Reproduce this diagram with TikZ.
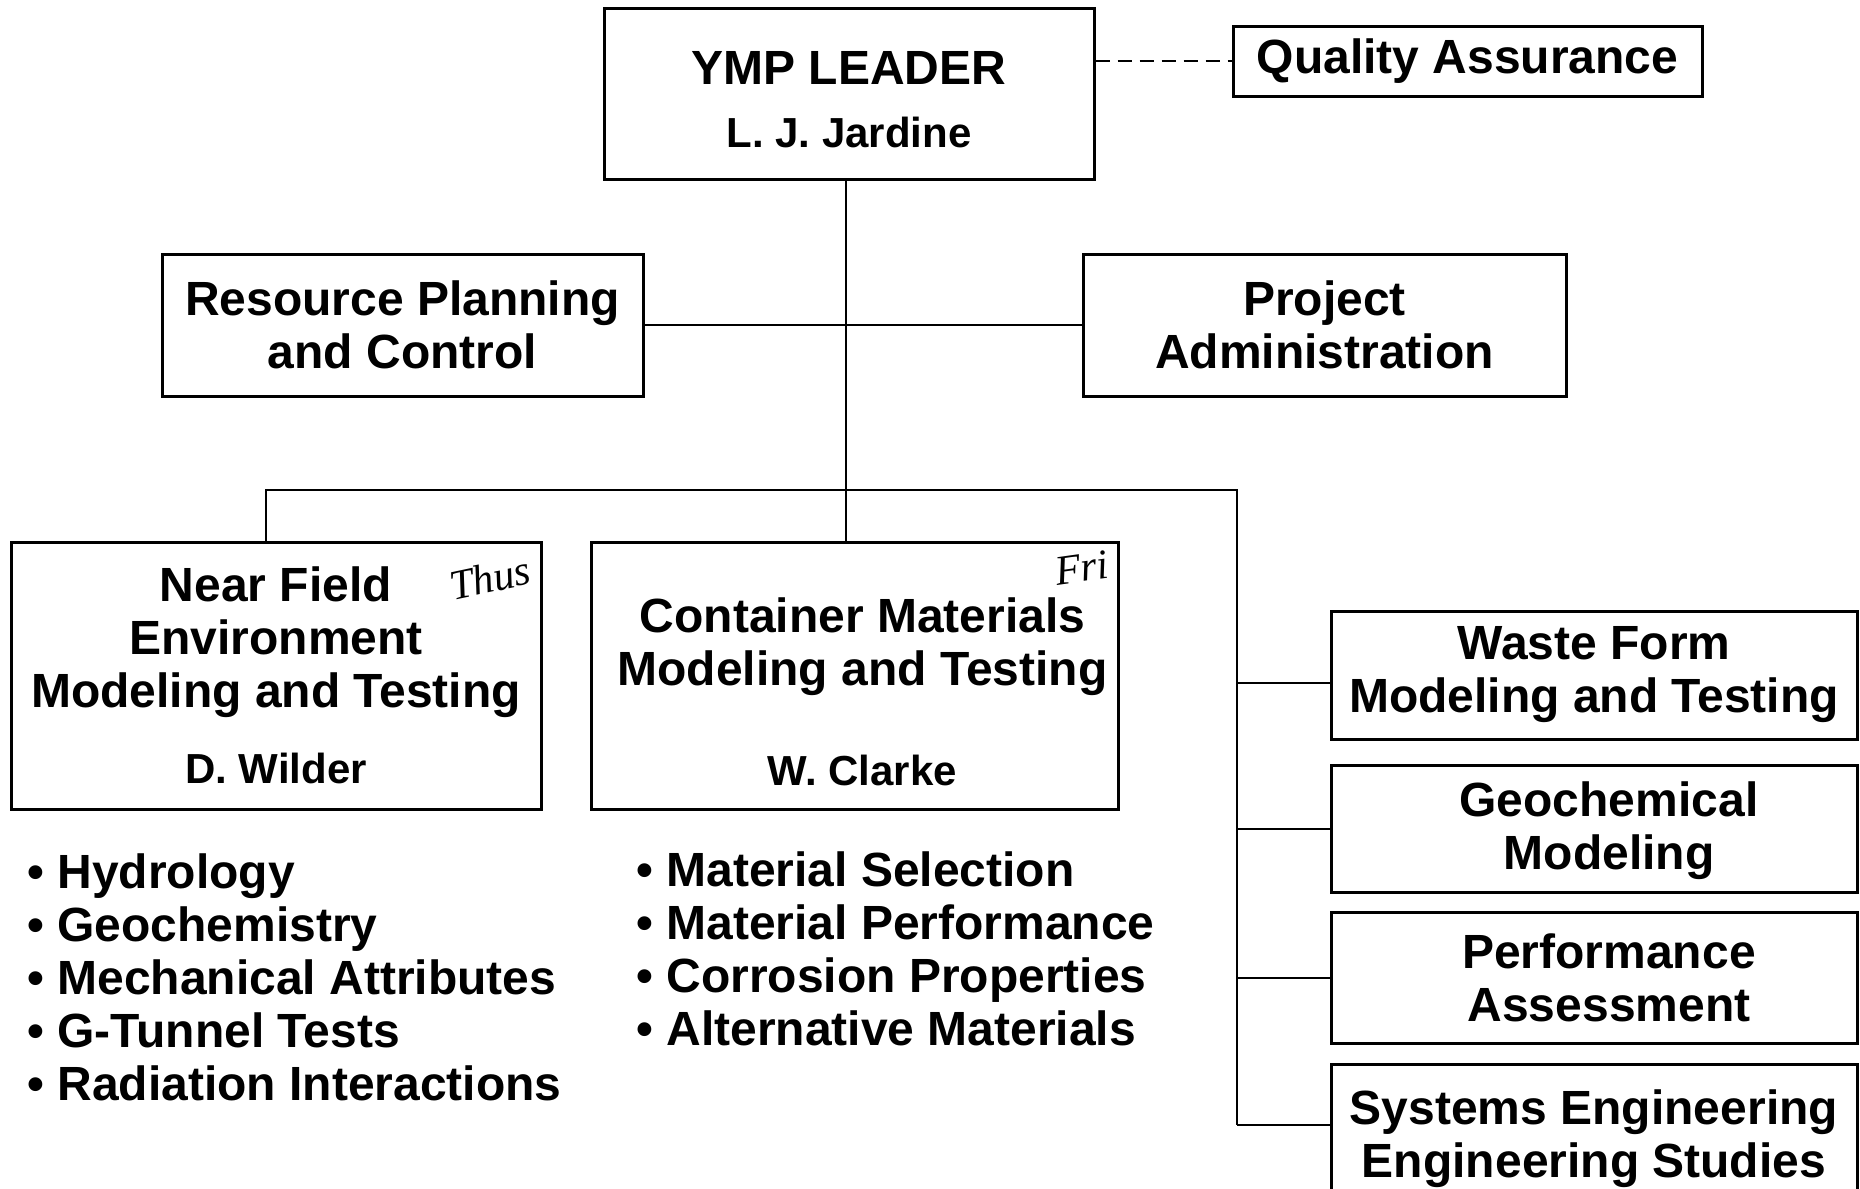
\documentclass[tikz,border=0pt]{standalone}
\usepackage{fontspec}
\setmainfont{Liberation Sans}
\newfontfamily\handfont{Liberation Serif}
\newcommand{\staffname}[1]{{\fontsize{21}{24}\selectfont #1}}

\begin{document}
\begin{tikzpicture}[x=0.5pt, y=-0.5pt,
    unit/.style={draw=black, line width=1.5pt, inner sep=0pt, align=center,
      font=\fontsize{24}{26.5}\selectfont\bfseries},
    tasks/.style={anchor=north west, inner sep=0pt, align=left,
      font=\fontsize{24}{26.5}\selectfont\bfseries},
    note/.style={inner sep=0pt, font=\handfont\itshape\fontsize{21}{21}\selectfont},
    link/.style={line width=1pt}]
    \useasboundingbox (0,0) rectangle (1860,1189);

    \node[unit, minimum width=245pt, minimum height=85.5pt] at (849,93.5) (leader) {\rule{0pt}{23pt}YMP LEADER\\[5pt]\staffname{L. J. Jardine}};
    \node[unit, minimum width=234.5pt, minimum height=35pt] at (1467.5,61) (qa) {Quality Assurance};
    \node[unit, minimum width=240.5pt, minimum height=71pt] at (402.5,325) (resource) {Resource Planning\\and Control};
    \node[unit, minimum width=241.5pt, minimum height=71pt] at (1324.5,325) (project) {Project\\Administration};

    \node[unit, minimum width=265pt, minimum height=133.5pt] at (276,675.5) (nearfield) {Near Field\\Environment\\Modeling and Testing\\[11.5pt]\staffname{D. Wilder}};
    \node[unit, minimum width=263.5pt, minimum height=133.5pt] at (854.5,675.5) (container) {\hspace*{8pt}\rule{0pt}{34pt}Container Materials\\\hspace*{8pt}Modeling and Testing\\[23.5pt]\hspace*{8pt}\staffname{W. Clarke}};

    \node[unit, minimum width=263pt, minimum height=64pt] at (1594,675) (waste) {Waste Form\\Modeling and Testing};
    \node[unit, minimum width=263pt, minimum height=63.5pt] at (1594,828.5) (geochem) {\hspace*{15pt}\rule{0pt}{20pt}Geochemical\\\hspace*{15pt}Modeling};
    \node[unit, minimum width=263pt, minimum height=65.5pt] at (1594,978) (perform) {\hspace*{15pt}Performance\\\hspace*{15pt}Assessment};
    \node[unit, minimum width=263pt, minimum height=75pt] at (1594,1139) (systems) {Systems Engineering\\Engineering Studies};

    \node[tasks] at (27,853) (nftasks) {• Hydrology\\• Geochemistry\\• Mechanical Attributes\\• G-Tunnel Tests\\• Radiation Interactions};
    \node[tasks] at (636,851) (cmtasks) {• Material Selection\\• Material Performance\\• Corrosion Properties\\• Alternative Materials};

    \node[note, rotate=12] at (490,578) (thurs) {Thus};
    \node[note, rotate=8] at (1082,568) (fri) {Fri};

    \coordinate (bus) at (1237,490);
    \coordinate (wastein) at ([yshift=-4pt]waste.west);
    \coordinate (systemsin) at ([yshift=7pt]systems.west);
    \draw[link, dash pattern=on 7pt off 4pt] (leader.east |- qa.west) -- (qa.west);
    \draw[link] ([xshift=-1.5pt]leader.south) -- ([xshift=-1.5pt]leader.south |- container.north);
    \draw[link] (resource.east) -- (project.west);
    \draw[link] ([xshift=-5pt]nearfield.north) |- (bus) -- (bus |- systemsin);
    \foreach \u in {wastein, geochem.west, perform.west, systemsin}
        \draw[link] (bus |- \u) -- (\u);
\end{tikzpicture}
\end{document}
